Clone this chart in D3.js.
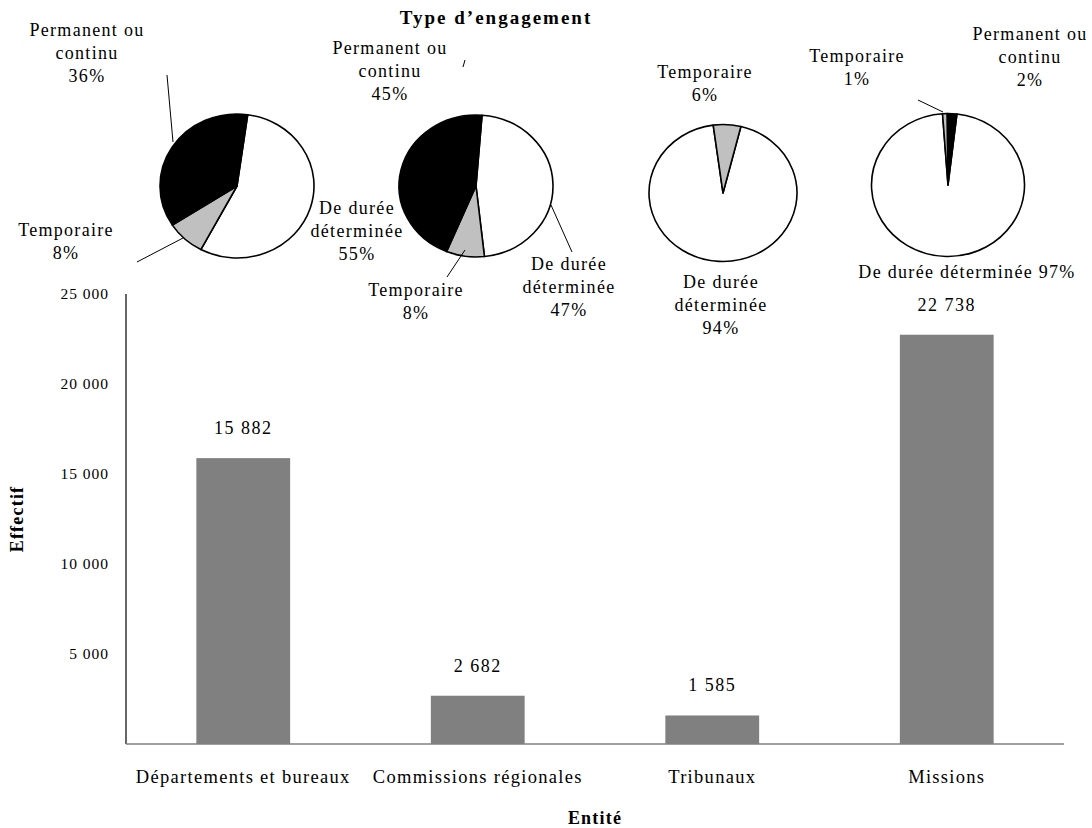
<!DOCTYPE html>
<html><head><meta charset="utf-8">
<script src="https://cdn.jsdelivr.net/npm/d3@7"></script>
<style>
body{margin:0;background:#fff;}
svg text{font-family:"Liberation Serif","Times New Roman",serif;fill:#000;}
</style></head>
<body>
<svg id="chart" width="1092" height="828"></svg>
<script>
// ---- data ----
const entities = ["Départements et bureaux", "Commissions régionales", "Tribunaux", "Missions"];
const effectifs = [15882, 2682, 1585, 22738];
const yTicks = [5000, 10000, 15000, 20000, 25000];
const engagementTypes = ["De durée déterminée", "Temporaire", "Permanent ou continu"];
const shareDeterminee = [55, 47, 94, 97];
const shareTemporaire = [8, 8, 6, 1];
const sharePermanent = [36, 45, 0, 2];
const chartTitle = "Type d’engagement";
const xTitle = "Entité";
const yTitle = "Effectif";

// ---- layout ----
const svg = d3.select("#chart");
const fmt = v => d3.format(",")(v).replace(/,/g, " ");
const plot = {left: 126, right: 1064, top: 294, bottom: 744};
const x = d3.scaleBand().domain(entities).range([plot.left, plot.right]).paddingInner(0.6).paddingOuter(0.3);
const y = d3.scaleLinear().domain([0, 25000]).range([plot.bottom, plot.top]);

// bars
svg.append("g").selectAll("rect").data(entities).join("rect")
  .attr("x", d => x(d)).attr("width", x.bandwidth())
  .attr("y", (d, i) => y(effectifs[i])).attr("height", (d, i) => y(0) - y(effectifs[i]))
  .attr("fill", "#808080");

// value labels
svg.append("g").selectAll("text").data(entities).join("text")
  .attr("x", d => x(d) + x.bandwidth() / 2)
  .attr("y", (d, i) => y(effectifs[i]) - 24)
  .attr("text-anchor", "middle").attr("font-size", 18).attr("letter-spacing", 1.5)
  .text((d, i) => fmt(effectifs[i]));

// y axis
const yAxis = d3.axisLeft(y).tickValues(yTicks).tickSize(0).tickPadding(17).tickFormat(fmt);
const gy = svg.append("g").attr("transform", `translate(${plot.left},0)`).call(yAxis);
gy.select(".domain").attr("stroke", "#000").attr("stroke-width", 1.2).attr("d", `M0,${plot.top}V${plot.bottom}`);
gy.selectAll("text").attr("font-size", 15.5).attr("letter-spacing", 1).attr("font-family", "Liberation Serif").attr("fill", "#000");

// x axis
const xAxis = d3.axisBottom(x).tickSize(0).tickPadding(26);
const gx = svg.append("g").attr("transform", `translate(0,${plot.bottom})`).call(xAxis);
gx.select(".domain").attr("stroke", "#808080").attr("stroke-width", 1.5).attr("d", `M${plot.left},0H${plot.right}`);
gx.selectAll("text").attr("font-size", 18.5).attr("letter-spacing", 1.3).attr("font-family", "Liberation Serif").attr("fill", "#000");

// axis titles
svg.append("text").attr("x", (plot.left + plot.right) / 2).attr("y", 824)
  .attr("text-anchor", "middle").attr("font-weight", "bold").attr("font-size", 18).attr("letter-spacing", 1.2).text(xTitle);
svg.append("text").attr("transform", `translate(23,${(plot.top + plot.bottom) / 2}) rotate(-90)`)
  .attr("text-anchor", "middle").attr("font-weight", "bold").attr("font-size", 18).attr("letter-spacing", 1.2).text(yTitle);

// chart title
svg.append("text").attr("x", 496).attr("y", 24).attr("text-anchor", "middle")
  .attr("font-weight", "bold").attr("font-size", 19).attr("letter-spacing", 2).text(chartTitle);

// ---- pies ----
const pieColors = ["#ffffff", "#c0c0c0", "#000000"];
const pieLayout = [
  {cx: 237, cy: 186, rx: 77, ry: 72, start: 8},
  {cx: 476, cy: 186, rx: 77, ry: 71, start: 4.5},
  {cx: 723, cy: 193, rx: 74, ry: 68.5, start: 14},
  {cx: 948, cy: 185, rx: 76.5, ry: 71.5, start: 6.7}
];
const wrapLines = {
  "De durée déterminée": ["De durée", "déterminée"],
  "Temporaire": ["Temporaire"],
  "Permanent ou continu": ["Permanent ou", "continu"]
};
// label placement: [pie][type] -> {x, y (first line), oneLine, leader}
const labelLayout = [
  [{x: 357, y: 214}, {x: 66, y: 236, leader: [[137, 262], [183, 238]]}, {x: 87, y: 36, leader: [[167, 75], [173, 142]]}],
  [{x: 569, y: 270, leader: [[551, 205], [572, 252]]}, {x: 416, y: 296, leader: [[447, 277], [465, 250]]}, {x: 390, y: 54, leader: [[465, 60], [463, 67]]}],
  [{x: 721, y: 288}, {x: 705, y: 78}, null],
  [{x: 967, y: 278, oneLine: true}, {x: 857, y: 62, leader: [[918, 100], [943, 112]]}, {x: 1030, y: 40}]
];

const shares = entities.map((e, i) => [shareDeterminee[i], shareTemporaire[i], sharePermanent[i]]);

shares.forEach((vals, pi) => {
  const L = pieLayout[pi];
  const pie = d3.pie().sort(null).value(d => d.v)
    .startAngle(L.start * Math.PI / 180).endAngle(L.start * Math.PI / 180 + 2 * Math.PI);
  const arcs = pie(vals.map((v, k) => ({v, k}))).filter(a => a.data.v > 0);
  const arc = d3.arc().innerRadius(0).outerRadius(L.rx);
  const g = svg.append("g").attr("transform", `translate(${L.cx},${L.cy}) scale(1,${L.ry / L.rx})`);
  g.selectAll("path").data(arcs).join("path")
    .attr("d", arc).attr("fill", d => pieColors[d.data.k])
    .attr("stroke", "#000").attr("stroke-width", 1.6).attr("vector-effect", "non-scaling-stroke")
    .attr("stroke-linejoin", "round");

  vals.forEach((v, k) => {
    const lab = labelLayout[pi][k];
    if (!lab || v <= 0) return;
    const name = engagementTypes[k];
    const lines = lab.oneLine ? [`${name} ${v}%`] : [...wrapLines[name], `${v}%`];
    const t = svg.append("text").attr("text-anchor", "middle").attr("font-size", 18).attr("letter-spacing", 1.3);
    lines.forEach((ln, j) => t.append("tspan").attr("x", lab.x).attr("y", lab.y + j * 23).text(ln));
    if (lab.leader) {
      svg.append("line").attr("x1", lab.leader[0][0]).attr("y1", lab.leader[0][1])
        .attr("x2", lab.leader[1][0]).attr("y2", lab.leader[1][1])
        .attr("stroke", "#000").attr("stroke-width", 1);
    }
  });
});
</script>
</body></html>
